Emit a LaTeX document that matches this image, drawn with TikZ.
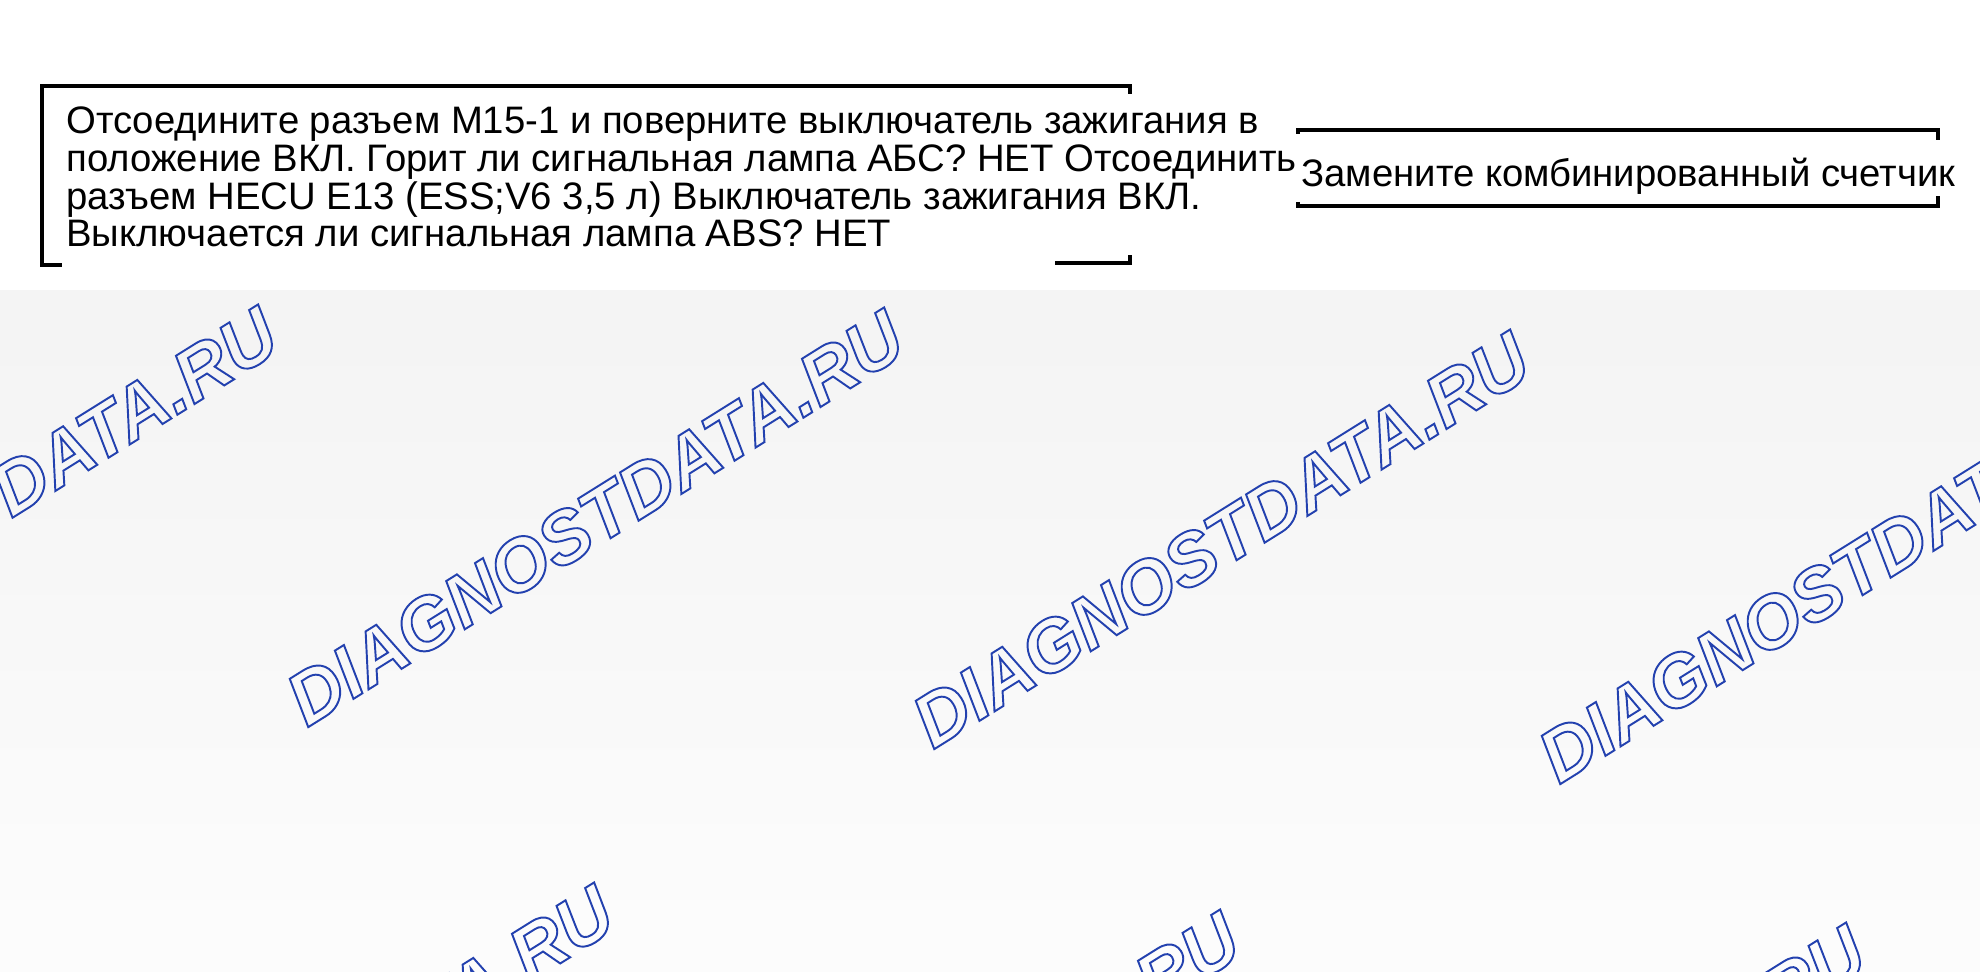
\documentclass[tikz,border=0pt]{standalone}
\usepackage{fontspec}
\setmainfont{Liberation Sans}
\newfontfamily\wmfont{Liberation Sans}
\definecolor{wmblue}{RGB}{35,65,175}
\newcommand{\outlined}[1]{\special{pdf:literal direct 1 Tr 1.1 w}#1\special{pdf:literal direct 0 Tr}}

\begin{document}
\begin{tikzpicture}[x=0.02cm, y=-0.02cm,
  frame/.style = {line width=2.5pt},
  steptext/.style = {font=\fontsize{21.8}{21.5}\selectfont, anchor=base west,
    inner sep=0pt, align=left},
  wmark/.style = {text=wmblue, font=\wmfont\bfseries\itshape\fontsize{42}{42}\selectfont,
    rotate=32, inner sep=0pt}]
  % page and grey lower band
  \fill[white] (0,0) rectangle (1980,972);
  \shade[top color=gray!9, bottom color=gray!2] (0,291) rectangle (1980,972);
  \begin{scope}
    \clip (0,291) rectangle (1980,972);
    \node[wmark] (wm1) at (-31,515) {\outlined{DIAGNOSTDATA.RU}};
    \node[wmark] (wm2) at (595,518) {\outlined{DIAGNOSTDATA.RU}};
    \node[wmark] (wm3) at (1221,540) {\outlined{DIAGNOSTDATA.RU}};
    \node[wmark] (wm4) at (1847,575) {\outlined{DIAGNOSTDATA.RU}};
    \node[wmark] (wm5) at (305,1093) {\outlined{DIAGNOSTDATA.RU}};
    \node[wmark] (wm6) at (931,1120) {\outlined{DIAGNOSTDATA.RU}};
    \node[wmark] (wm7) at (1557,1133) {\outlined{DIAGNOSTDATA.RU}};
  \end{scope}
  % question box (anchored on its last line)
  \node[steptext] (check) at (66,247)
    {Отсоедините разъем М15-1 и поверните выключатель зажигания в\\
     положение ВКЛ. Горит ли сигнальная лампа АБС? НЕТ Отсоединить\\
     разъем HECU E13 (ESS;V6 3,5 л) Выключатель зажигания ВКЛ.\\
     Выключается ли сигнальная лампа ABS? НЕТ};
  \draw[frame] (1130,94) -- (1130,86) -- (42,86) -- (42,265) -- (62,265);
  \draw[frame] (1055,263) -- (1130,263) -- (1130,255);
  % answer box
  \node[steptext] (replace) at (1301,187) {Замените комбинированный счетчик};
  \draw[frame] (1298,134) -- (1298,130) -- (1938,130) -- (1938,140);
  \draw[frame] (1298,202) -- (1298,206) -- (1938,206) -- (1938,196);
\end{tikzpicture}
\end{document}
